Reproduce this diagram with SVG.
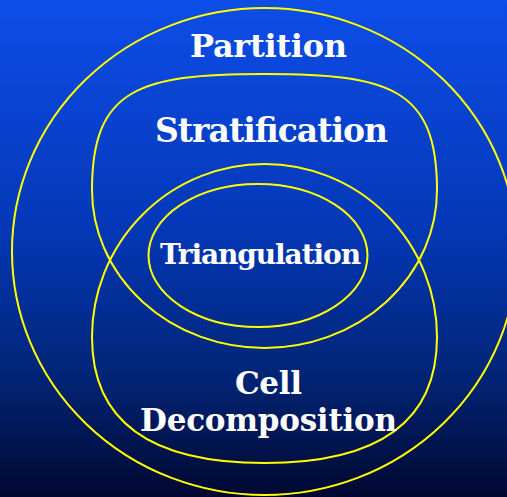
<svg xmlns="http://www.w3.org/2000/svg" width="507" height="497" viewBox="0 0 507 497">
<defs>
<linearGradient id="bg" x1="0" y1="0" x2="0" y2="1">
<stop offset="0" stop-color="#0d4de8"/>
<stop offset="0.45" stop-color="#0438b8"/>
<stop offset="0.75" stop-color="#022578"/>
<stop offset="1" stop-color="#000830"/>
</linearGradient>
</defs>
<style>
.ring{fill:none;stroke:#ffff00;stroke-width:2}
.lbl{font-family:"DejaVu Serif","Liberation Serif",serif;font-weight:bold;fill:#ffffff;text-anchor:middle}
</style>
<rect width="507" height="497" fill="url(#bg)"/>
<g id="partition">
<ellipse class="ring" cx="264.5" cy="251.5" rx="252.5" ry="243.5"/>
<text class="lbl" x="268.5" y="57" font-size="32" textLength="157">Partition</text>
</g>
<g id="stratification">
<path class="ring" d="M92,190 C92,88 140,74 264.5,74 C389,74 437,88 437,190 A172.5 158 0 0 1 264.5 348 A172.5 158 0 0 1 92 190 Z"/>
<text class="lbl" x="271.5" y="142" font-size="33" textLength="233">Stratification</text>
</g>
<g id="cell-decomposition">
<path class="ring" d="M92,337 A172.5 173 0 0 1 264.5 164 A172.5 173 0 0 1 437 337 C437,435 359,463 264.5,463 C170,463 92,435 92,337 Z"/>
<text class="lbl" x="268.5" y="394" font-size="31" textLength="67">Cell</text>
<text class="lbl" x="268.5" y="431" font-size="31" textLength="257">Decomposition</text>
</g>
<g id="triangulation">
<ellipse class="ring" cx="258" cy="255.5" rx="109.5" ry="71.5"/>
<text class="lbl" x="260.5" y="264" font-size="28" textLength="201">Triangulation</text>
</g>
<g id="connectors"/>
</svg>
